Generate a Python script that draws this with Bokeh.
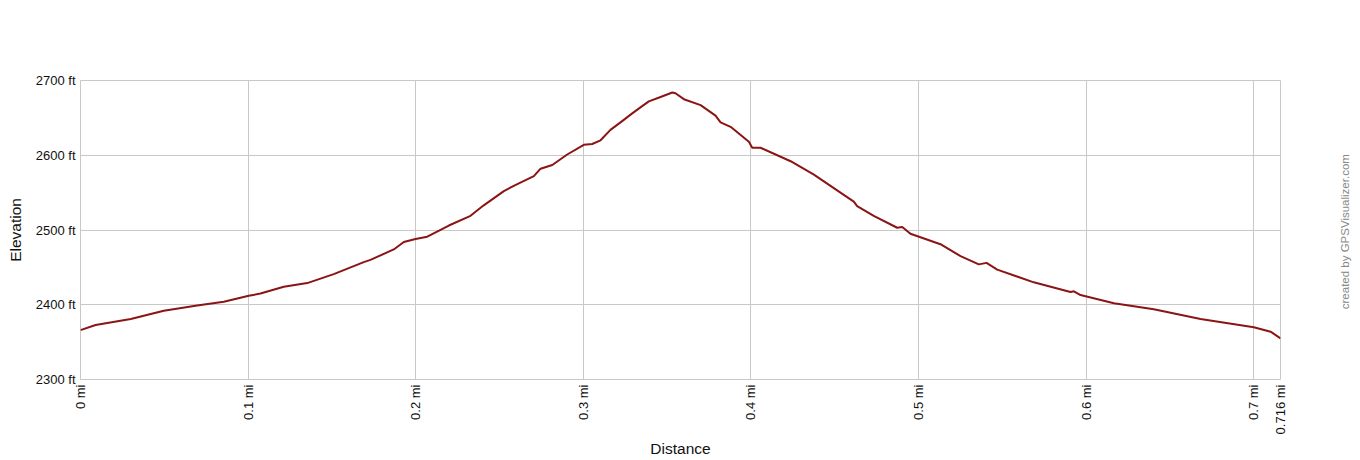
import math
from bokeh.plotting import figure
from bokeh.models import Range1d, FixedTicker, LinearAxis
from bokeh.embed import file_html
from bokeh.resources import INLINE

# Distance (mi) and elevation (ft) read from the profile
distance_mi = [0.0, 0.009, 0.030, 0.0497, 0.0696, 0.0855, 0.1004, 0.1074, 0.1213, 0.1353,
               0.1511, 0.1690, 0.1730, 0.1869, 0.1929, 0.1999, 0.2069, 0.2198, 0.2327, 0.2406,
               0.2526, 0.2585, 0.2705, 0.2745, 0.2815, 0.2904, 0.3003, 0.3053, 0.3103, 0.3162,
               0.3222, 0.3292, 0.3341, 0.3391, 0.3461, 0.3531, 0.3550, 0.3600, 0.3700, 0.3789,
               0.3819, 0.3879, 0.3988, 0.4008, 0.4058, 0.4237, 0.4376, 0.4475, 0.4614, 0.4634,
               0.4733, 0.4873, 0.4903, 0.4952, 0.5131, 0.5251, 0.5360, 0.5406, 0.5470, 0.5688,
               0.5907, 0.5927, 0.5967, 0.6166, 0.6404, 0.6683, 0.7001, 0.7101, 0.716]
elevation_ft = [2366, 2373, 2381, 2392, 2399, 2404, 2412, 2415, 2424, 2429,
                2441, 2457, 2460, 2474, 2484, 2488, 2491, 2506, 2519, 2533,
                2552, 2559, 2572, 2582, 2587, 2601, 2614, 2615, 2620, 2634,
                2644, 2656, 2664, 2672, 2678, 2684, 2683, 2675, 2667, 2653,
                2644, 2638, 2618, 2610, 2610, 2592, 2574, 2559, 2538, 2532,
                2519, 2503, 2504, 2495, 2481, 2465, 2454, 2456, 2447, 2430,
                2417, 2418, 2413, 2402, 2394, 2381, 2370, 2364, 2355]

x_ticks = [0, 0.1, 0.2, 0.3, 0.4, 0.5, 0.6, 0.7, 0.716]
x_tick_labels = ["0 mi", "0.1 mi", "0.2 mi", "0.3 mi", "0.4 mi", "0.5 mi", "0.6 mi", "0.7 mi", "0.716 mi"]
y_ticks = [2300, 2400, 2500, 2600, 2700]
y_tick_labels = ["2300 ft", "2400 ft", "2500 ft", "2600 ft", "2700 ft"]
credit_text = "created by GPSVisualizer.com"

FONT = "Liberation Sans"
GRID = "#c8c8c8"
CREDIT_ANCHOR = 2394  # layout constant: where the vertical credit text begins

p = figure(width=1360, height=460, output_backend="svg", toolbar_location=None,
           x_range=Range1d(0, 0.716), y_range=Range1d(2300, 2700),
           min_border_left=80, min_border_right=80, min_border_top=80, min_border_bottom=80)

p.line(distance_mi, elevation_ft, line_color="#8b1414", line_width=2)

p.outline_line_color = GRID
p.xgrid.grid_line_color = GRID
p.ygrid.grid_line_color = GRID

p.xaxis.ticker = FixedTicker(ticks=x_ticks)
p.xaxis.major_label_overrides = {t: l for t, l in zip(x_ticks, x_tick_labels)}
p.xaxis.major_label_orientation = math.pi / 2
p.yaxis.ticker = FixedTicker(ticks=y_ticks)
p.yaxis.major_label_overrides = {t: l for t, l in zip(y_ticks, y_tick_labels)}
p.xgrid.ticker = FixedTicker(ticks=x_ticks)
p.ygrid.ticker = FixedTicker(ticks=y_ticks)

for ax in (p.xaxis, p.yaxis):
    ax.axis_line_color = None
    ax.major_tick_line_color = None
    ax.minor_tick_line_color = None
    ax.major_tick_out = 0
    ax.minor_tick_out = 0
    ax.major_label_text_font = FONT
    ax.major_label_text_font_size = "13px"
    ax.major_label_text_color = "#111111"
    ax.major_label_standoff = 5
    ax.axis_label_text_font = FONT
    ax.axis_label_text_font_size = "15.5px"
    ax.axis_label_text_font_style = "normal"
    ax.axis_label_text_color = "#111111"

p.xaxis.axis_label = "Distance"
p.xaxis.axis_label_standoff = 3
p.yaxis.axis_label = "Elevation"
p.yaxis.axis_label_standoff = 9

# credit text on the right, drawn as the single (rotated) tick label of a blank axis
credit = LinearAxis(ticker=FixedTicker(ticks=[CREDIT_ANCHOR]),
                    major_label_overrides={CREDIT_ANCHOR: credit_text},
                    major_label_orientation=math.pi / 2,
                    axis_line_color=None, major_tick_line_color=None, minor_tick_line_color=None,
                    major_tick_out=0, minor_tick_out=0, major_tick_in=0, minor_tick_in=0,
                    major_label_text_font=FONT, major_label_text_font_size="11.5px",
                    major_label_text_color="#888888", major_label_standoff=65)
p.add_layout(credit, "right")

open("out.html", "w").write(file_html(p, INLINE))
